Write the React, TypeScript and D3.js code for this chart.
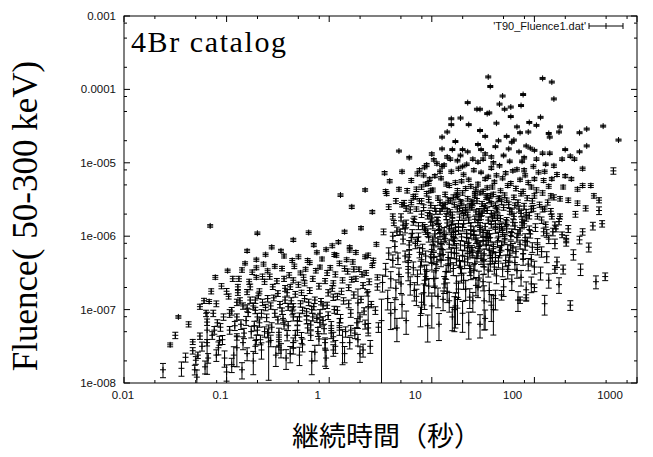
import React from "react";
import * as d3 from "d3";

const W = 653;
const H = 457;

// Axis setup
const xDomain: [number, number] = [0.01, 1000];
const yDomain: [number, number] = [1e-8, 1e-3];
const xTickValues = [0.01, 0.1, 1, 10, 100, 1000];
const xTickLabels = ["0.01", "0.1", "1", "10", "100", "1000"];
const yTickValues = [1e-8, 1e-7, 1e-6, 1e-5, 1e-4, 1e-3];
const yTickLabels = ["1e-008", "1e-007", "1e-006", "1e-005", "0.0001", "0.001"];
const minorMantissas = [2, 5, 8];

// Bursts: [log10 T90 (s), log10 fluence (erg/cm^2), relative fluence error (%)]
const shortBursts: [number, number, number][] = [
  [-1.62, -7.82, 22], [-1.55, -7.48, 6], [-1.47, -7.1, 4], [-1.44, -7.8, 22],
  [-1.33, -7.44, 8], [-1.33, -7.56, 10], [-1.28, -7.62, 10], [-1.3, -7.69, 12], [-1.29, -7.92, 25], [-1.31, -7.82, 15], [-1.26, -7.36, 10],
  [-1.26, -6.96, 8], [-1.19, -7.17, 10], [-1.19, -7.28, 75], [-1.19, -7.45, 10], [-1.18, -7.66, 15], [-1.17, -6.89, 6], [-1.16, -5.86, 4],
  [-1.11, -6.56, 6], [-1.09, -7.18, 10], [-1.06, -7.24, 12], [-1.04, -7.41, 14], [-1.13, -7.05, 10], [-1.08, -7.52, 20], [-1.02, -7.66, 25], [-1.14, -7.35, 12],
  [-0.99, -6.47, 5], [-0.97, -7.28, 12], [-0.9, -7.37, 10], [-0.9, -7.52, 45], [-0.89, -6.69, 8], [-0.89, -6.77, 8], [-0.9, -6.9, 10], [-0.9, -7.1, 10],
  [-0.8, -6.76, 8], [-0.82, -6.37, 5], [-0.77, -6.87, 10], [-0.95, -7.02, 12], [-0.86, -7.2, 15], [-0.84, -7.45, 20], [-0.93, -7.62, 30], [-0.79, -7.04, 12],
  [-0.76, -7.3, 18], [-0.98, -6.82, 8],
  [-0.71, -6.32, 5], [-0.71, -6.43, 6], [-0.71, -6.56, 6], [-0.72, -6.87, 10], [-0.72, -7.01, 10], [-0.7, -7.1, 12], [-0.7, -7.28, 14], [-0.71, -7.41, 15],
  [-0.67, -7.41, 15], [-0.65, -6.9, 10], [-0.61, -7.11, 12], [-0.6, -7.32, 14], [-0.59, -7.44, 70], [-0.55, -6.69, 8], [-0.53, -6.41, 6], [-0.6, -6.47, 6],
  [-0.5, -7.14, 12], [-0.68, -6.75, 8], [-0.63, -6.62, 8], [-0.57, -6.95, 10], [-0.66, -7.55, 25], [-0.52, -7.62, 30], [-0.74, -7.7, 35],
  [-0.49, -7.31, 14], [-0.49, -7.41, 16], [-0.49, -7.51, 18], [-0.43, -6.87, 10], [-0.41, -6.77, 10], [-0.35, -6.96, 10], [-0.35, -7.1, 12], [-0.35, -7.45, 16],
  [-0.35, -7.52, 18], [-0.38, -6.69, 8], [-0.35, -6.6, 8], [-0.28, -6.5, 6], [-0.27, -6.77, 8], [-0.26, -7.01, 10], [-0.46, -7.02, 10], [-0.44, -6.58, 8],
  [-0.4, -7.22, 14], [-0.31, -7.28, 15], [-0.47, -6.2, 5], [-0.3, -6.28, 6], [-0.42, -7.66, 30], [-0.29, -7.62, 28],
  [-0.24, -6.64, 8], [-0.22, -7.14, 12], [-0.19, -6.36, 6], [-0.16, -7.1, 12], [-0.14, -6.87, 10], [-0.09, -6.42, 6], [-0.09, -7.05, 12], [-0.09, -7.18, 12],
  [-0.04, -7.45, 16], [-0.04, -7.55, 40], [-0.02, -6.5, 8], [-0.01, -6.77, 10], [-0.2, -6.9, 10], [-0.12, -6.22, 5], [-0.06, -6.95, 10], [-0.18, -7.35, 15],
  [-0.23, -6.45, 6], [-0.11, -7.3, 14], [-0.03, -6.18, 5], [-0.17, -7.7, 35],
  [0.04, -6.64, 8], [0.04, -6.83, 10], [0.04, -7.37, 15], [0.04, -7.55, 18], [0.08, -7.01, 12], [0.1, -7.18, 14], [0.15, -6.44, 8], [0.17, -6.32, 6],
  [0.22, -6.59, 8], [0.07, -6.26, 6], [0.12, -6.75, 10], [0.19, -6.92, 12], [0.02, -7.22, 14], [0.13, -7.45, 50], [0.21, -7.28, 16], [0.24, -6.45, 8],
  [0.09, -6.08, 5], [0.2, -6.15, 5],
  [0.28, -6.91, 55], [0.28, -7.41, 18], [0.37, -6.77, 10], [0.38, -6.96, 60], [0.38, -7.25, 15], [0.47, -6.56, 8], [0.47, -6.69, 10], [0.48, -7.24, 15],
  [0.45, -7.01, 12], [0.32, -6.52, 8], [0.35, -6.28, 6], [0.42, -6.4, 6], [0.3, -7.1, 14], [0.51, -7.15, 96], [0.26, -6.22, 6], [0.33, -7.55, 20],
  [-0.2, -5.95, 5], [-0.35, -6.05, 5], [-0.7, -5.96, 4], [-0.62, -6.25, 5], [-0.44, -6.27, 6],
];

const moreShortBursts: [number, number, number][] = [
  [-0.88, -6.58, 8], [-0.84, -6.95, 10], [-0.81, -7.15, 14], [-0.78, -6.62, 8], [-0.75, -6.49, 7], [-0.73, -7.22, 15], [-0.69, -6.81, 9], [-0.66, -7.05, 12],
  [-0.64, -6.38, 6], [-0.62, -6.97, 10], [-0.58, -6.55, 8], [-0.56, -7.24, 15], [-0.54, -6.84, 9], [-0.51, -6.61, 8], [-0.48, -6.93, 10], [-0.46, -6.44, 7],
  [-0.45, -7.12, 13], [-0.43, -6.71, 9], [-0.41, -7.35, 16], [-0.39, -6.53, 8], [-0.37, -6.88, 10], [-0.36, -7.02, 11], [-0.34, -6.41, 7], [-0.33, -6.79, 9],
  [-0.31, -7.15, 13], [-0.3, -6.66, 8], [-0.28, -6.92, 10], [-0.27, -7.38, 17], [-0.25, -6.56, 8], [-0.24, -6.85, 10], [-0.22, -7.03, 11], [-0.21, -6.33, 6],
  [-0.19, -6.74, 9], [-0.18, -7.21, 14], [-0.16, -6.58, 8], [-0.15, -6.96, 10], [-0.13, -6.47, 7], [-0.12, -7.12, 12], [-0.1, -6.68, 9], [-0.08, -6.89, 10],
  [-0.07, -6.31, 6], [-0.05, -7.26, 15], [-0.04, -6.61, 8], [-0.02, -6.94, 10], [-0.01, -7.08, 12], [0.01, -6.43, 7], [0.03, -6.71, 9], [0.05, -7.0, 11],
  [0.06, -6.52, 8], [0.08, -6.82, 10], [0.1, -6.37, 7], [0.11, -7.12, 13], [0.13, -6.6, 8], [0.14, -6.88, 10], [0.16, -7.3, 16], [0.18, -6.48, 8],
  [0.19, -6.7, 9], [0.21, -7.05, 12], [0.23, -6.35, 7], [0.24, -6.8, 10], [0.26, -6.58, 8], [0.27, -7.18, 14], [0.29, -6.45, 7], [0.31, -6.86, 10],
  [0.33, -6.67, 9], [0.34, -7.02, 11], [0.36, -6.5, 8], [0.39, -6.62, 9], [0.41, -6.93, 10], [0.43, -6.33, 7],
  [-1.0, -6.75, 9], [-0.97, -7.05, 12], [-0.94, -6.58, 8], [-0.92, -7.22, 14], [-0.87, -6.88, 10], [-0.85, -6.46, 7], [-0.83, -7.32, 16], [-0.8, -6.98, 11],
  [-0.77, -6.69, 9], [-0.74, -6.95, 10], [-0.72, -7.5, 20], [-0.68, -7.18, 13], [-0.65, -6.55, 8], [-0.63, -7.3, 16], [-0.6, -6.85, 10], [-0.57, -7.42, 18],
  [-0.53, -7.05, 12], [-0.5, -6.78, 9], [-0.47, -7.55, 22], [-0.44, -7.2, 14], [-0.4, -6.96, 11], [-0.38, -7.6, 25], [-0.33, -7.35, 16], [-0.29, -7.1, 13],
  [-0.26, -7.48, 20], [-0.21, -7.25, 15], [-0.17, -7.0, 11], [-0.14, -7.58, 24], [-0.1, -7.4, 18], [-0.06, -7.15, 13], [-0.03, -7.66, 28], [0.02, -7.32, 16],
  [0.06, -7.5, 20], [0.1, -7.28, 15], [0.15, -7.6, 25], [0.2, -7.45, 18], [0.25, -7.32, 16], [0.3, -7.6, 24], [0.35, -7.2, 14], [0.4, -7.5, 20],
  [-1.22, -6.88, 8], [-1.2, -7.05, 10], [-1.15, -6.75, 8], [-1.12, -7.28, 12], [-1.1, -6.92, 9], [-1.07, -7.42, 14], [-1.05, -6.68, 8], [-1.03, -7.1, 10],
  [-1.24, -7.5, 14], [-1.21, -7.78, 20], [-1.1, -7.62, 18], [-1.0, -7.85, 25], [-0.95, -7.75, 22], [-0.85, -7.82, 25], [-0.8, -7.6, 20], [-1.37, -7.2, 8],
  [-1.4, -7.65, 14], [-1.5, -7.35, 10],
  [-0.56, -6.15, 5], [-0.15, -6.12, 5], [0.05, -6.25, 6], [-0.36, -6.33, 6], [-0.8, -6.2, 5],
];

const brightLongBursts: [number, number, number][] = [
  [1.55, -3.83, 3], [1.57, -3.96, 3], [2.08, -3.85, 3], [2.17, -3.9, 3], [2.19, -4.13, 3], [1.69, -4.09, 3], [1.89, -4.07, 3], [1.35, -4.18, 3],
  [1.44, -4.27, 3], [1.47, -4.27, 3], [1.54, -4.33, 3], [1.56, -4.32, 3], [1.66, -4.2, 3], [1.71, -4.27, 3], [1.77, -4.24, 3], [1.87, -4.22, 3],
  [1.19, -4.4, 3], [1.28, -4.39, 3], [1.63, -4.46, 3], [1.77, -4.37, 3], [1.95, -4.45, 3], [2.06, -4.38, 3], [1.19, -4.48, 3], [1.36, -4.48, 3],
  [1.47, -4.56, 3], [1.15, -4.58, 3], [1.1, -4.65, 3], [1.23, -4.71, 3], [1.52, -4.64, 3], [1.83, -4.51, 3], [1.86, -4.59, 3], [1.94, -4.58, 3],
  [2.02, -4.49, 3], [2.14, -4.6, 3], [2.15, -4.65, 3], [2.25, -4.51, 3], [2.24, -4.58, 3], [2.44, -4.59, 3], [2.51, -4.54, 3], [2.67, -4.5, 3],
  [2.51, -4.77, 3], [2.82, -4.69, 3], [2.44, -4.85, 3], [2.3, -4.82, 3], [2.35, -4.91, 4], [0.68, -4.84, 3], [0.78, -4.93, 4], [0.54, -5.14, 5],
  [0.71, -5.12, 5], [0.59, -5.25, 5], [1.1, -4.81, 3], [1.3, -4.82, 3], [1.28, -4.9, 4], [1.18, -4.95, 4], [1.02, -4.96, 4], [0.95, -5.03, 5],
  [1.05, -5.01, 5], [1.1, -5.05, 5], [1.45, -4.99, 4], [1.48, -4.82, 3], [1.65, -4.7, 3], [1.73, -4.64, 3], [1.78, -4.72, 3], [1.8, -4.69, 3],
  [1.92, -4.77, 3], [1.96, -4.8, 3], [1.88, -4.98, 4], [2.02, -4.95, 4], [2.08, -4.87, 4], [2.15, -4.87, 4], [2.19, -5.04, 5], [2.27, -4.95, 4],
  [2.39, -4.95, 4], [2.47, -5.08, 5], [2.77, -5.11, 10], [2.17, -5.22, 5], [2.36, -5.22, 5], [2.47, -5.31, 6], [2.55, -5.31, 6], [2.42, -5.36, 6],
  [2.25, -5.49, 7], [2.33, -5.51, 7], [2.42, -5.55, 7], [2.63, -5.65, 12], [2.57, -5.86, 12], [2.66, -5.83, 10], [2.44, -6.05, 12], [2.47, -5.94, 10],
  [2.31, -6.03, 10], [2.31, -6.09, 10], [2.27, -5.98, 9], [2.21, -5.9, 9], [2.11, -5.84, 8], [2.25, -5.73, 8], [2.17, -5.73, 8], [2.1, -5.63, 7],
  [2.03, -5.73, 8], [0.55, -5.39, 6], [0.56, -5.42, 6], [0.68, -5.36, 6], [0.71, -5.57, 7], [0.62, -5.73, 8], [0.63, -5.82, 8], [0.53, -5.94, 9],
  [0.69, -5.94, 9], [0.82, -5.46, 6], [0.8, -5.54, 7], [0.85, -5.63, 7], [0.92, -5.17, 5], [0.98, -5.22, 5], [2.63, -5.51, 8], [2.69, -6.55, 12],
  [1.35, -4.85, 3], [1.58, -4.92, 4], [1.62, -4.78, 3], [1.4, -4.95, 4], [1.7, -4.9, 4], [1.85, -4.85, 3], [1.25, -4.97, 4], [1.52, -4.88, 4],
  [1.9, -4.93, 4], [1.0, -4.88, 4], [2.0, -4.83, 3], [1.75, -4.81, 3], [1.45, -4.75, 3], [1.15, -4.92, 4],
  [0.11, -5.44, 4], [0.22, -5.6, 5], [0.35, -5.37, 4], [0.42, -5.67, 5], [0.31, -5.89, 5], [0.15, -5.94, 5], [0.46, -6.11, 6], [0.03, -6.13, 6],
  [0.2, -6.19, 6], [0.38, -6.26, 7],
];

const coreLongBursts: [number, number, number][] = [
  [0.93, -5.06, 5], [1.12, -5.03, 4], [1.26, -5.08, 5], [1.34, -5.02, 4], [1.58, -5.07, 5], [1.66, -5.04, 4], [1.83, -5.09, 5], [1.99, -5.05, 5], [2.11, -5.02, 4], [1.41, -5.1, 5],
  [0.86, -5.15, 6], [1.03, -5.18, 5], [1.19, -5.12, 5], [1.31, -5.16, 5], [1.48, -5.13, 4], [1.55, -5.19, 5], [1.72, -5.14, 5], [1.79, -5.11, 4],
  [1.91, -5.17, 5], [2.04, -5.13, 5], [2.22, -5.16, 6], [1.63, -5.17, 5],
  [0.8, -5.24, 6], [0.97, -5.28, 6], [1.09, -5.21, 5], [1.23, -5.27, 6], [1.36, -5.23, 5], [1.45, -5.29, 6], [1.52, -5.22, 5], [1.61, -5.26, 5],
  [1.69, -5.21, 5], [1.77, -5.28, 6], [1.86, -5.23, 5], [1.94, -5.27, 6], [2.09, -5.24, 6], [1.29, -5.25, 5], [1.14, -5.29, 6],
  [0.9, -5.33, 7], [1.01, -5.37, 6], [1.17, -5.31, 6], [1.25, -5.38, 7], [1.38, -5.32, 6], [1.43, -5.36, 6], [1.5, -5.39, 7], [1.59, -5.33, 6],
  [1.67, -5.38, 6], [1.74, -5.31, 6], [1.82, -5.35, 7], [1.89, -5.39, 7], [1.97, -5.33, 6], [2.02, -5.37, 7], [2.14, -5.32, 6], [1.33, -5.35, 6],
  [1.54, -5.34, 6], [0.76, -5.38, 7],
  [0.84, -5.46, 8], [0.95, -5.42, 7], [1.06, -5.48, 7], [1.13, -5.43, 7], [1.21, -5.47, 8], [1.3, -5.41, 7], [1.35, -5.49, 7], [1.42, -5.44, 7],
  [1.47, -5.41, 6], [1.53, -5.47, 7], [1.6, -5.43, 7], [1.65, -5.49, 8], [1.71, -5.44, 7], [1.8, -5.47, 7], [1.87, -5.42, 7], [1.93, -5.48, 8],
  [2.0, -5.45, 7], [2.08, -5.41, 7], [2.19, -5.47, 8], [1.24, -5.44, 7], [1.57, -5.45, 7],
  [0.73, -5.55, 9], [0.88, -5.52, 8], [0.99, -5.58, 8], [1.08, -5.54, 8], [1.16, -5.51, 8], [1.22, -5.57, 8], [1.28, -5.53, 7], [1.37, -5.59, 9],
  [1.44, -5.52, 8], [1.49, -5.56, 8], [1.56, -5.51, 7], [1.62, -5.58, 8], [1.68, -5.53, 8], [1.75, -5.57, 9], [1.84, -5.54, 8], [1.9, -5.59, 9],
  [1.98, -5.52, 8], [2.05, -5.57, 8], [2.13, -5.54, 8], [1.4, -5.55, 8], [1.11, -5.59, 9], [1.73, -5.51, 7],
  [0.79, -5.64, 10], [0.92, -5.61, 9], [1.04, -5.66, 9], [1.1, -5.62, 9], [1.18, -5.68, 10], [1.25, -5.63, 9], [1.33, -5.67, 9], [1.39, -5.61, 8],
  [1.46, -5.66, 9], [1.51, -5.62, 9], [1.58, -5.69, 10], [1.64, -5.64, 9], [1.7, -5.61, 8], [1.78, -5.67, 9], [1.85, -5.63, 9], [1.92, -5.68, 10],
  [1.99, -5.62, 9], [2.16, -5.66, 9], [1.3, -5.65, 9], [1.54, -5.65, 9], [0.98, -5.69, 10],
  [0.7, -5.74, 11], [0.83, -5.77, 10], [0.96, -5.72, 10], [1.05, -5.78, 10], [1.14, -5.73, 10], [1.2, -5.79, 11], [1.27, -5.74, 10], [1.35, -5.71, 9],
  [1.42, -5.77, 10], [1.48, -5.73, 10], [1.55, -5.78, 10], [1.61, -5.72, 9], [1.67, -5.76, 10], [1.73, -5.79, 11], [1.8, -5.73, 10], [1.88, -5.77, 10],
  [1.95, -5.72, 10], [2.07, -5.78, 10], [1.0, -5.75, 10], [1.59, -5.75, 10],
  [0.75, -5.83, 12], [0.87, -5.86, 11], [0.99, -5.81, 11], [1.07, -5.87, 11], [1.15, -5.82, 11], [1.23, -5.88, 12], [1.31, -5.83, 11], [1.38, -5.86, 11],
  [1.45, -5.81, 10], [1.52, -5.87, 11], [1.58, -5.84, 11], [1.66, -5.89, 12], [1.72, -5.82, 11], [1.81, -5.86, 11], [1.9, -5.83, 11], [2.01, -5.88, 12],
  [2.2, -5.85, 11], [1.19, -5.85, 11], [0.93, -5.89, 12],
  [0.66, -5.93, 13], [0.81, -5.96, 12], [0.94, -5.92, 12], [1.03, -5.97, 12], [1.12, -5.93, 12], [1.19, -5.98, 13], [1.26, -5.92, 12], [1.34, -5.96, 12],
  [1.41, -5.99, 13], [1.47, -5.93, 12], [1.54, -5.97, 12], [1.62, -5.91, 11], [1.69, -5.95, 12], [1.77, -5.99, 13], [1.86, -5.93, 12], [1.96, -5.97, 12],
  [2.09, -5.94, 12], [1.08, -5.95, 12],
  [0.72, -6.04, 14], [0.86, -6.07, 13], [0.97, -6.02, 13], [1.06, -6.08, 14], [1.13, -6.03, 13], [1.21, -6.06, 13], [1.29, -6.01, 12], [1.36, -6.09, 14],
  [1.43, -6.04, 13], [1.5, -6.07, 13], [1.57, -6.02, 13], [1.64, -6.08, 14], [1.71, -6.05, 13], [1.83, -6.02, 13], [1.93, -6.07, 14], [2.14, -6.04, 13],
  [1.01, -6.05, 13],
  [0.64, -6.14, 16], [0.78, -6.12, 15], [0.91, -6.17, 15], [1.02, -6.13, 15], [1.1, -6.18, 16], [1.17, -6.11, 14], [1.24, -6.16, 15], [1.32, -6.13, 15],
  [1.39, -6.19, 16], [1.46, -6.14, 15], [1.53, -6.11, 14], [1.6, -6.17, 15], [1.68, -6.13, 15], [1.79, -6.16, 15], [1.91, -6.12, 15], [2.03, -6.18, 16],
  [0.58, -6.23, 18], [0.74, -6.27, 17], [0.88, -6.22, 16], [0.99, -6.28, 17], [1.08, -6.24, 16], [1.16, -6.29, 18], [1.22, -6.23, 16], [1.3, -6.26, 17],
  [1.37, -6.21, 16], [1.44, -6.27, 17], [1.51, -6.24, 16], [1.59, -6.29, 18], [1.66, -6.22, 16], [1.76, -6.26, 17], [1.89, -6.24, 16], [2.12, -6.28, 17],
  [0.62, -6.33, 19], [0.77, -6.36, 19], [0.9, -6.32, 18], [1.0, -6.37, 19], [1.09, -6.33, 18], [1.18, -6.38, 20], [1.27, -6.34, 18], [1.35, -6.31, 18],
  [1.42, -6.37, 19], [1.5, -6.33, 18], [1.57, -6.38, 20], [1.65, -6.34, 19], [1.81, -6.36, 19], [1.97, -6.32, 18],
];

const moreLongBursts: [number, number, number][] = [
  [1.18, -5.52, 8], [1.26, -5.83, 11], [1.33, -5.61, 9], [1.41, -5.92, 12], [1.49, -5.68, 9], [1.56, -5.97, 12], [1.64, -5.74, 10], [1.71, -6.03, 13],
  [1.79, -5.81, 11], [1.12, -6.01, 13], [1.2, -5.71, 10], [1.28, -6.12, 15], [1.36, -5.78, 10], [1.44, -6.08, 14], [1.52, -5.59, 8], [1.6, -6.14, 15],
  [1.68, -5.87, 11], [1.76, -5.66, 9], [1.84, -5.96, 12], [1.92, -5.75, 10],
  [1.03, -5.62, 9], [1.07, -5.91, 12], [1.15, -5.66, 9], [1.23, -5.98, 12], [1.31, -5.72, 10], [1.39, -5.53, 8], [1.47, -5.86, 11], [1.55, -6.06, 13],
  [1.63, -5.62, 9], [1.69, -5.92, 12], [1.77, -6.13, 15], [1.87, -5.69, 10], [1.95, -5.91, 12], [2.03, -6.09, 14],
  [0.9, -5.7, 10], [0.96, -5.95, 12], [1.0, -6.18, 15], [1.06, -5.79, 11], [1.11, -6.25, 16], [1.17, -5.9, 12], [1.24, -6.31, 18], [1.29, -5.55, 8],
  [1.34, -6.02, 13], [1.4, -6.22, 16], [1.46, -5.74, 10], [1.5, -5.95, 12], [1.57, -6.26, 17], [1.62, -5.83, 11], [1.67, -6.19, 16], [1.73, -5.9, 12],
  [1.82, -6.21, 16], [1.88, -5.85, 11], [1.98, -6.15, 15],
  [0.87, -6.01, 13], [0.94, -6.27, 17], [1.01, -5.85, 11], [1.09, -6.1, 14], [1.16, -6.4, 19], [1.22, -6.07, 13], [1.27, -5.62, 9], [1.32, -6.35, 19],
  [1.38, -5.97, 12], [1.43, -5.67, 9], [1.48, -6.3, 18], [1.53, -6.0, 13], [1.58, -5.56, 8], [1.65, -6.0, 13], [1.72, -6.33, 18], [1.78, -5.95, 12],
  [1.86, -6.11, 14], [1.94, -6.38, 19],
  [0.82, -5.8, 11], [0.89, -6.42, 20], [0.97, -5.5, 8], [1.05, -6.35, 19], [1.13, -5.57, 8], [1.19, -6.22, 16], [1.25, -5.46, 7], [1.3, -5.88, 11],
  [1.37, -6.44, 20], [1.42, -5.42, 7], [1.47, -6.12, 15], [1.54, -5.45, 7], [1.61, -6.42, 20], [1.66, -5.48, 7], [1.74, -6.18, 16], [1.81, -5.58, 8],
  [1.89, -6.31, 18], [1.97, -5.63, 9], [2.07, -6.21, 16], [2.18, -5.94, 12],
  [0.78, -6.25, 17], [0.84, -6.1, 15], [0.91, -5.86, 11], [0.95, -6.48, 22], [1.02, -6.29, 17], [1.08, -5.66, 9], [1.14, -6.48, 22], [1.21, -5.95, 12],
  [1.28, -6.41, 20], [1.35, -6.16, 15], [1.41, -6.47, 22], [1.45, -6.23, 16], [1.51, -6.42, 20], [1.56, -6.19, 16], [1.62, -6.29, 17], [1.69, -6.45, 21],
  [1.75, -6.36, 19], [1.83, -6.47, 21], [1.91, -6.02, 13], [2.0, -6.42, 20],
  [0.74, -5.9, 12], [0.67, -6.3, 18], [0.7, -6.65, 26], [0.77, -6.5, 22], [0.83, -6.74, 28], [0.86, -6.55, 23], [0.9, -6.9, 30], [0.97, -6.68, 27],
  [1.02, -6.58, 24], [1.06, -6.82, 30], [1.12, -6.65, 26], [1.17, -6.88, 30], [1.26, -6.72, 28], [1.31, -6.6, 25], [1.37, -6.83, 30], [1.45, -6.7, 27],
  [1.5, -6.62, 25], [1.62, -6.85, 30], [1.78, -6.62, 24], [1.97, -6.65, 24],
  [0.58, -5.6, 8], [0.62, -6.0, 13], [0.65, -5.52, 8], [0.72, -5.85, 11], [0.75, -5.62, 9], [0.8, -6.02, 13], [0.85, -5.36, 7], [0.9, -5.52, 8],
  [0.94, -5.29, 6], [0.99, -5.38, 6],
  [2.08, -5.63, 9], [2.12, -5.96, 12], [2.16, -5.45, 7], [2.2, -6.1, 15], [2.24, -5.8, 10], [2.28, -5.33, 6], [2.33, -5.9, 11], [2.38, -6.25, 16],
  [2.4, -5.7, 9], [2.45, -6.45, 18], [2.5, -5.62, 8], [2.53, -6.15, 14], [2.58, -5.45, 7], [2.6, -6.62, 20], [2.3, -5.18, 5], [2.22, -6.35, 16],
  [2.14, -6.6, 22],
  [1.9, -5.1, 5], [2.0, -5.22, 5], [1.6, -5.0, 4], [1.3, -5.05, 4], [1.08, -5.12, 5], [0.88, -5.1, 5], [2.1, -5.12, 5], [1.5, -4.95, 4],
  [1.76, -4.98, 4], [1.2, -4.82, 3],
];

const faintLongBursts: [number, number, number][] = [
  [0.55, -6.45, 20], [0.68, -6.52, 22], [0.82, -6.43, 20], [0.94, -6.55, 24], [1.04, -6.47, 21], [1.13, -6.58, 25], [1.21, -6.44, 20], [1.29, -6.53, 22],
  [1.38, -6.49, 21], [1.46, -6.57, 24], [1.55, -6.46, 20], [1.63, -6.54, 22], [1.74, -6.48, 21], [1.87, -6.56, 24], [2.06, -6.5, 20], [2.28, -6.45, 14],
  [0.6, -6.58, 25],
  [0.52, -6.63, 26], [0.65, -6.71, 30], [0.79, -6.66, 28], [0.92, -6.77, 32], [1.03, -6.68, 27], [1.15, -6.75, 30], [1.24, -6.64, 26], [1.33, -6.72, 30],
  [1.43, -6.67, 28], [1.56, -6.74, 30], [1.7, -6.69, 26], [1.92, -6.73, 28], [2.24, -6.66, 24],
  [0.57, -6.85, 30], [0.71, -6.93, 35], [0.85, -6.82, 25], [1.0, -6.95, 50], [1.11, -6.86, 30], [1.25, -6.98, 40], [1.4, -6.88, 30], [1.58, -6.94, 40],
  [1.84, -6.87, 30], [2.1, -6.92, 30],
  [0.6, -7.05, 40], [0.75, -7.15, 35], [0.89, -7.08, 30], [1.07, -7.2, 40], [1.2, -7.1, 35], [1.36, -7.18, 40], [1.52, -7.12, 30], [0.66, -7.25, 35],
  [0.96, -7.22, 40], [1.3, -7.05, 45],
  [1.51, -6.88, 60], [1.86, -6.87, 10], [1.92, -6.84, 10], [2.35, -6.94, 15], [1.6, -7.0, 55], [1.68, -6.8, 15], [2.0, -6.7, 12], [2.2, -6.45, 12],
  [1.47, -7.2, 35], [1.22, -7.0, 50], [0.93, -6.6, 60], [1.23, -6.95, 50], [0.64, -7.0, 45],
];

const allBursts = [...shortBursts, ...moreShortBursts, ...brightLongBursts, ...coreLongBursts, ...moreLongBursts, ...faintLongBursts];

// Frame of the plot
const left = 124;
const right = 637;
const top = 16;
const bottom = 383;

const x = d3.scaleLog().domain(xDomain).range([left, right]);
const y = d3.scaleLog().domain(yDomain).range([bottom, top]);
// tick labels along the bottom are set on a slightly narrower row than the frame
const xLabelPos = d3.scaleLog().domain(xDomain).range([123, 610]);

const MAJOR = 6;
const MINOR = 3;
const ARM = 3;
const CAP = 3;

function burstPath([lt, lf, pct]: [number, number, number]): string {
  const f = Math.pow(10, lf);
  const r = pct / 100;
  const cx = x(Math.pow(10, lt));
  const cy = y(f);
  const hiV = f * (1 + r);
  const loV = f * (1 - r);
  const yHi = Math.max(top, y(hiV));
  const yLo = loV > yDomain[0] ? y(loV) : bottom;
  let p = `M${cx - ARM},${cy}H${cx + ARM}M${cx},${cy - ARM}V${cy + ARM}`;
  p += `M${cx},${yHi}V${yLo}`;
  if (hiV < yDomain[1]) p += `M${cx - CAP},${yHi}H${cx + CAP}`;
  if (loV > yDomain[0]) p += `M${cx - CAP},${yLo}H${cx + CAP}`;
  return p;
}

function tickPaths(): string {
  let p = "";
  const xMinor: number[] = [];
  for (const d of xTickValues.slice(0, -1)) for (const m of minorMantissas) xMinor.push(d * m);
  const yMinor: number[] = [];
  for (const d of yTickValues.slice(0, -1)) for (const m of minorMantissas) yMinor.push(d * m);
  for (const v of xTickValues) {
    const px = x(v);
    p += `M${px},${bottom}V${bottom - MAJOR}M${px},${top}V${top + MAJOR}`;
  }
  for (const v of xMinor) {
    const px = x(v);
    p += `M${px},${bottom}V${bottom - MINOR}M${px},${top}V${top + MINOR}`;
  }
  for (const v of yTickValues) {
    const py = y(v);
    p += `M${left},${py}H${left + MAJOR}M${right},${py}H${right - MAJOR}`;
  }
  for (const v of yMinor) {
    const py = y(v);
    p += `M${left},${py}H${left + MINOR}M${right},${py}H${right - MINOR}`;
  }
  return p;
}

export default function App() {
  const legendY = 26;
  const legendX0 = 589;
  const legendX1 = 623;
  const legendMid = (legendX0 + legendX1) / 2;
  return (
    <svg
      width={W}
      height={H}
      viewBox={`0 0 ${W} ${H}`}
      style={{ position: "absolute", left: 0, top: 0, background: "#fff" }}
    >
      <rect x={0} y={0} width={W} height={H} fill="#fff" />
      <g fill="none" stroke="#000" strokeWidth={1}>
        {allBursts.map((b, i) => (
          <path key={i} d={burstPath(b)} />
        ))}
      </g>
      <rect x={left} y={top} width={right - left} height={bottom - top} fill="none" stroke="#000" strokeWidth={1} />
      <path d={tickPaths()} stroke="#000" strokeWidth={1} fill="none" />
      <g fontFamily="'Liberation Sans', Arial, sans-serif" fontSize={11.5} fill="#111">
        {xTickValues.map((v, i) => (
          <text key={i} x={xLabelPos(v)} y={399} textAnchor="middle">
            {xTickLabels[i]}
          </text>
        ))}
        {yTickValues.map((v, i) => (
          <text key={i} x={116} y={y(v) + 4} textAnchor="end">
            {yTickLabels[i]}
          </text>
        ))}
        <text x={586} y={30} textAnchor="end" fontSize={11}>
          'T90_Fluence1.dat'
        </text>
      </g>
      <path
        d={`M${legendX0},${legendY}H${legendX1}M${legendX0},${legendY - CAP}V${legendY + CAP}M${legendX1},${legendY - CAP}V${legendY + CAP}M${legendMid},${legendY - ARM}V${legendY + ARM}`}
        stroke="#000"
        strokeWidth={1}
        fill="none"
      />
      <text
        x={131}
        y={52}
        fontFamily="'Liberation Serif', 'Times New Roman', serif"
        fontSize={30}
        textLength={155}
        lengthAdjust="spacing"
        fill="#000"
      >
        4Br catalog
      </text>
      <text
        transform="translate(37,216) rotate(-90)"
        textAnchor="middle"
        fontFamily="'Liberation Serif', 'Times New Roman', serif"
        fontSize={35}
        fill="#000"
      >
        Fluence(<tspan dx={10}>50-300 keV)</tspan>
      </text>
      <text
        x={292}
        y={446}
        fontFamily="'Noto Sans CJK JP', 'Noto Sans CJK SC', sans-serif"
        fontSize={27}
        fill="#000"
      >
        継続時間（秒）
      </text>
    </svg>
  );
}
